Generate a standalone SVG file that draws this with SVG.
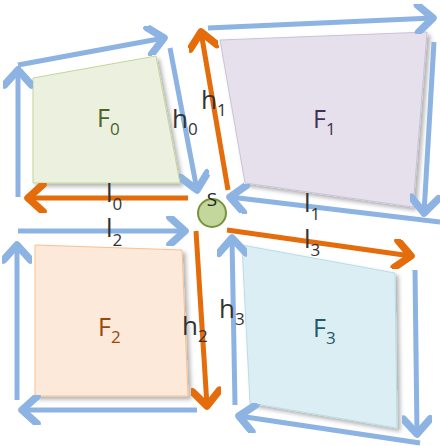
<svg xmlns="http://www.w3.org/2000/svg" width="440" height="446" viewBox="0 0 440 446">
<style>
.b{stroke:#8db3e2;stroke-width:5;fill:none;stroke-linecap:butt}
.o{stroke:#e46c0a;stroke-width:5;fill:none}
.t{font-family:"Open Sans","Liberation Sans",sans-serif;font-size:25px}
.lb{font-family:"Open Sans","Liberation Sans",sans-serif;font-size:26px;fill:#333}
.s{font-size:17px}
</style>
<defs>
<marker id="ab" markerUnits="userSpaceOnUse" markerWidth="30" markerHeight="30" refX="14" refY="10" orient="auto" viewBox="0 0 20 20">
<path d="M4 1 L14 10 L4 19" fill="none" stroke="#8db3e2" stroke-width="5" stroke-linecap="round" stroke-linejoin="round"/>
</marker>
<marker id="ao" markerUnits="userSpaceOnUse" markerWidth="30" markerHeight="30" refX="14" refY="10" orient="auto" viewBox="0 0 20 20">
<path d="M4 1 L14 10 L4 19" fill="none" stroke="#e46c0a" stroke-width="5" stroke-linecap="round" stroke-linejoin="round"/>
</marker>
<filter id="sh" x="-10%" y="-10%" width="130%" height="130%">
<feDropShadow dx="3" dy="3" stdDeviation="2" flood-color="#000" flood-opacity="0.3"/>
</filter>
</defs>
<g id="F0">
<polygon points="33,78 156,56 180,183 33,183" fill="#ebf1de" stroke="#c3d69b" stroke-width="1" filter="url(#sh)"/>
<text class="t" x="97" y="127" fill="#4f6228">F<tspan class="s" dy="8">0</tspan></text>
</g>
<g id="F1">
<polygon points="220,40 427,32 413,207 245,183" fill="#e6e0ec" stroke="#ccc1da" stroke-width="1" filter="url(#sh)"/>
<text class="t" x="313" y="128" fill="#3f3151">F<tspan class="s" dy="7">1</tspan></text>
</g>
<g id="F2">
<polygon points="35,245 182,250 188,396 35,396" fill="#fde9d9" stroke="#fac090" stroke-width="1" filter="url(#sh)"/>
<text class="t" x="98" y="336" fill="#984807">F<tspan class="s" dy="7">2</tspan></text>
</g>
<g id="F3">
<polygon points="242,245 395,273 397,428 250,403" fill="#dbeef4" stroke="#b7dee8" stroke-width="1" filter="url(#sh)"/>
<text class="t" x="313" y="337" fill="#215968">F<tspan class="s" dy="7">3</tspan></text>
</g>
<g id="connectors">
<line class="b" x1="18" y1="197" x2="18" y2="70" marker-end="url(#ab)"/>
<line class="b" x1="18" y1="65" x2="164" y2="38" marker-end="url(#ab)"/>
<line class="b" x1="170" y1="48" x2="197" y2="190" marker-end="url(#ab)"/>
<line class="o" x1="188" y1="198" x2="28" y2="198" marker-end="url(#ao)"/>
<line class="o" x1="228" y1="190" x2="201" y2="32" marker-end="url(#ao)"/>
<line class="b" x1="208" y1="28" x2="433" y2="18" marker-end="url(#ab)"/>
<line class="b" x1="434" y1="42" x2="424" y2="213" marker-end="url(#ab)"/>
<line class="b" x1="440" y1="222" x2="230" y2="197" marker-end="url(#ab)"/>
<line class="b" x1="18" y1="231" x2="185" y2="231" marker-end="url(#ab)"/>
<line class="b" x1="17" y1="400" x2="17" y2="245" marker-end="url(#ab)"/>
<line class="o" x1="196" y1="231" x2="207" y2="406" marker-end="url(#ao)"/>
<line class="b" x1="197" y1="410" x2="22" y2="410" marker-end="url(#ab)"/>
<line class="o" x1="227" y1="230" x2="411" y2="256" marker-end="url(#ao)"/>
<line class="b" x1="235" y1="405" x2="232" y2="238" marker-end="url(#ab)"/>
<line class="b" x1="415" y1="270" x2="417" y2="434" marker-end="url(#ab)"/>
<line class="b" x1="420" y1="443" x2="239" y2="416" marker-end="url(#ab)"/>
</g>
<g id="labels">
<text class="lb" x="172" y="128">h<tspan class="s" dy="7">0</tspan></text>
<text class="lb" x="201" y="109">h<tspan class="s" dy="7">1</tspan></text>
<text class="lb" x="182" y="335">h<tspan class="s" dy="7">2</tspan></text>
<text class="lb" x="219" y="318">h<tspan class="s" dy="7">3</tspan></text>
<text class="lb" x="106" y="202">l<tspan class="s" dy="8">0</tspan></text>
<text class="lb" x="304" y="212">l<tspan class="s" dy="8">1</tspan></text>
<text class="lb" x="106" y="237">l<tspan class="s" dy="9">2</tspan></text>
<text class="lb" x="304" y="248">l<tspan class="s" dy="8">3</tspan></text>
</g>
<g id="S">
<circle cx="212" cy="213" r="14" fill="#c3d69b" stroke="#77933c" stroke-width="2"/>
<text x="212" y="206" text-anchor="middle" font-family="Open Sans, Liberation Sans, sans-serif" font-size="19" fill="#222">S</text>
</g>
</svg>
